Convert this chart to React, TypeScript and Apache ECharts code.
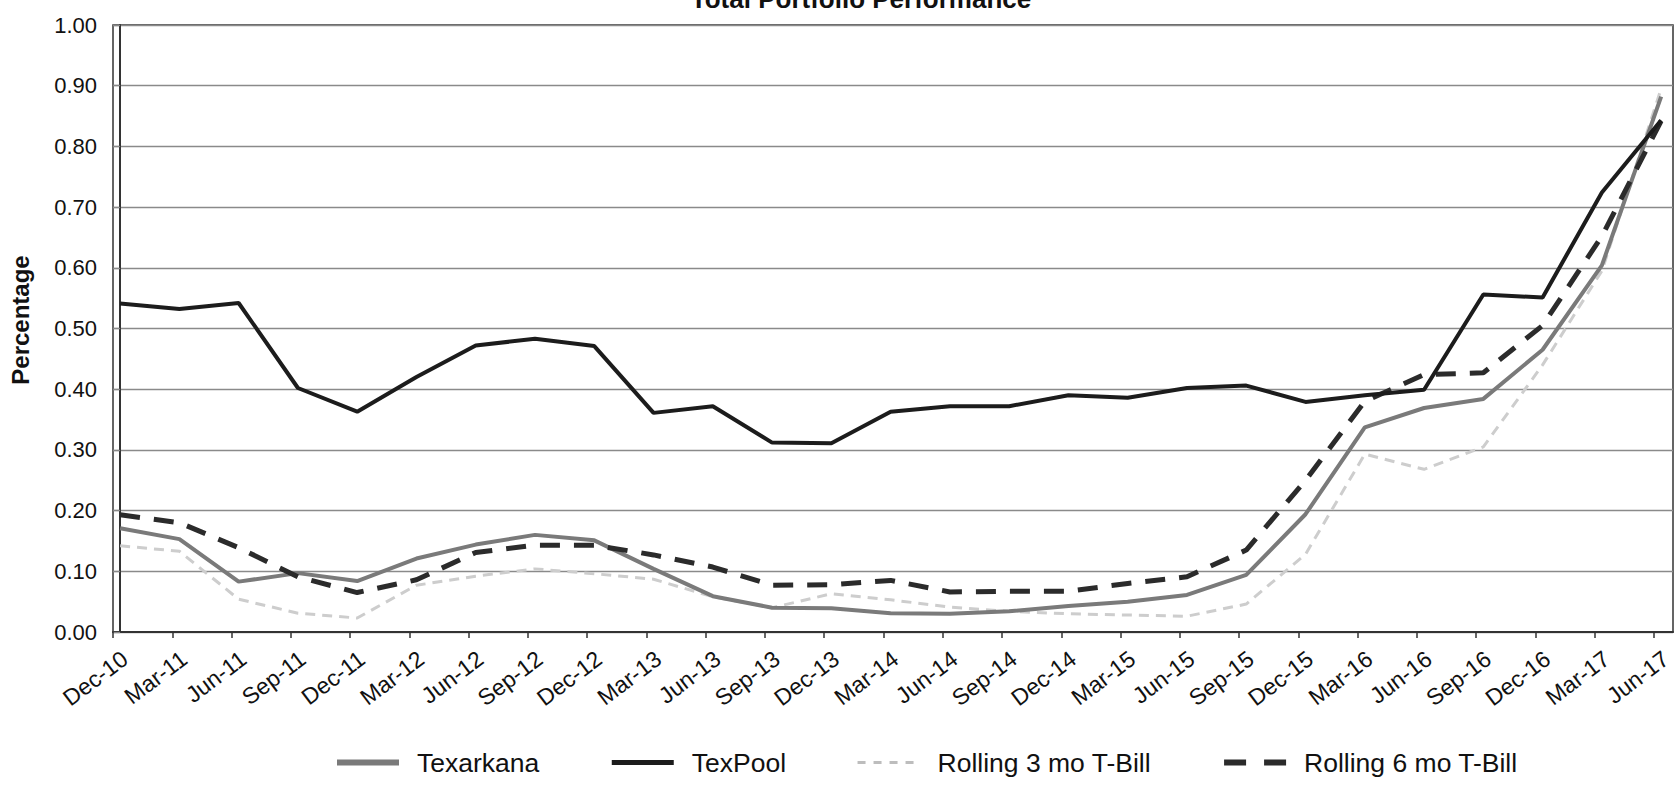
import React, { useEffect, useRef } from "react";
import * as echarts from "echarts";

const categories = [
  "Dec-10", "Mar-11", "Jun-11", "Sep-11", "Dec-11", "Mar-12", "Jun-12", "Sep-12", "Dec-12",
  "Mar-13", "Jun-13", "Sep-13", "Dec-13", "Mar-14", "Jun-14", "Sep-14", "Dec-14", "Mar-15",
  "Jun-15", "Sep-15", "Dec-15", "Mar-16", "Jun-16", "Sep-16", "Dec-16", "Mar-17", "Jun-17",
];

const texarkana = [
  0.171, 0.153, 0.083, 0.097, 0.084, 0.121, 0.144, 0.16, 0.151, 0.104, 0.059, 0.04, 0.039, 0.031,
  0.03, 0.034, 0.043, 0.05, 0.061, 0.094, 0.194, 0.337, 0.369, 0.384, 0.465, 0.604, 0.882,
];

const texPool = [
  0.541, 0.532, 0.542, 0.402, 0.363, 0.42, 0.472, 0.483, 0.471, 0.361, 0.372, 0.312, 0.311, 0.363,
  0.372, 0.372, 0.39, 0.386, 0.402, 0.406, 0.379, 0.39, 0.399, 0.556, 0.551, 0.724, 0.843,
];

const rolling3 = [
  0.142, 0.133, 0.054, 0.031, 0.023, 0.077, 0.092, 0.104, 0.096, 0.087, 0.058, 0.04, 0.063, 0.053,
  0.041, 0.034, 0.03, 0.028, 0.026, 0.046, 0.128, 0.293, 0.268, 0.305, 0.44, 0.595, 0.895,
];

const rolling6 = [
  0.193, 0.18, 0.139, 0.091, 0.065, 0.086, 0.131, 0.143, 0.143, 0.127, 0.107, 0.077, 0.078, 0.085,
  0.066, 0.067, 0.067, 0.08, 0.091, 0.135, 0.25, 0.38, 0.424, 0.427, 0.505, 0.652, 0.842,
];

const seriesNames = ["Texarkana", "TexPool", "Rolling 3 mo T-Bill", "Rolling 6 mo T-Bill"];
const chartTitle = "Total Portfolio Performance";
const yAxisTitle = "Percentage";

const TICK_SHIFT = -0.12;
const LABEL_SHIFT = 0.08;
const FONT = "'Liberation Sans', Arial, sans-serif";

const COLORS = {
  texarkana: "#7a7a7a",
  texPool: "#1c1c1c",
  rolling3: "#cdcdcd",
  rolling6: "#2b2b2b",
};

export default function App() {
  const ref = useRef<HTMLDivElement>(null);

  useEffect(() => {
    if (!ref.current) return;
    const chart = echarts.init(ref.current, undefined, { renderer: "svg" });
    const toPairs = (arr: number[]) => arr.map((v, i) => [i, v]);

    chart.setOption({
      animation: false,
      backgroundColor: "#ffffff",
      textStyle: { fontFamily: FONT },
      graphic: [
        {
          type: "text",
          x: 861,
          y: 12,
          style: {
            text: chartTitle,
            font: `bold 26px ${FONT}`,
            fill: "#111",
            textAlign: "center",
            textVerticalAlign: "bottom",
          },
        },
        {
          type: "text",
          x: 20,
          y: 320,
          rotation: Math.PI / 2,
          style: {
            text: yAxisTitle,
            font: `bold 24px ${FONT}`,
            fill: "#111",
            textAlign: "center",
            textVerticalAlign: "middle",
          },
        },
      ],
      grid: {
        left: 113,
        right: 5,
        top: 25,
        bottom: 163,
        show: true,
        borderColor: "#333",
        borderWidth: 1.5,
        backgroundColor: "transparent",
      },
      legend: {
        left: 329,
        top: 744,
        itemWidth: 62,
        itemHeight: 14,
        itemGap: 70,
        itemStyle: { opacity: 0, borderWidth: 0 },
        data: [
          { name: seriesNames[0], lineStyle: { color: COLORS.texarkana, width: 6 } },
          { name: seriesNames[1], lineStyle: { color: COLORS.texPool, width: 5 } },
          { name: seriesNames[2], lineStyle: { color: "#bdbdbd", width: 3, type: [8, 8] } },
          { name: seriesNames[3], lineStyle: { color: COLORS.rolling6, width: 6, type: [22, 18] } },
        ],
        textStyle: {
          fontSize: 26.5,
          color: "#111",
          fontFamily: FONT,
          padding: [0, 0, 0, 13],
        },
      },
      xAxis: {
        type: "value",
        min: TICK_SHIFT,
        max: 26.2,
        splitLine: { show: false },
        axisLine: { show: true, onZero: false, lineStyle: { color: "#333", width: 2 } },
        axisTick: {
          show: true,
          length: 6,
          lineStyle: { color: "#333", width: 1.5 },
          customValues: categories.map((_, i) => i + TICK_SHIFT),
        },
        axisLabel: {
          show: true,
          rotate: 37,
          margin: 24,
          fontSize: 23,
          color: "#111",
          fontFamily: FONT,
          customValues: categories.map((_, i) => i + LABEL_SHIFT),
          formatter: (v: number) => categories[Math.round(v - LABEL_SHIFT)] ?? "",
        },
      },
      yAxis: {
        type: "value",
        min: 0,
        max: 1,
        interval: 0.1,
        axisLine: { show: true, lineStyle: { color: "#333", width: 2 } },
        axisTick: { show: true, length: 7, lineStyle: { color: "#888", width: 1.3 } },
        axisLabel: {
          fontSize: 22,
          color: "#111",
          margin: 16,
          fontFamily: FONT,
          formatter: (v: number) => v.toFixed(2),
        },
        splitLine: { show: true, lineStyle: { color: "#8a8a8a", width: 1.3 } },
      },
      series: [
        {
          name: seriesNames[2],
          type: "line",
          data: toPairs(rolling3),
          symbol: "none",
          lineStyle: { color: COLORS.rolling3, width: 3, type: [10, 7] },
          itemStyle: { color: COLORS.rolling3 },
          z: 2,
        },
        {
          name: seriesNames[0],
          type: "line",
          data: toPairs(texarkana),
          symbol: "none",
          lineStyle: { color: COLORS.texarkana, width: 4 },
          itemStyle: { color: COLORS.texarkana },
          z: 3,
        },
        {
          name: seriesNames[3],
          type: "line",
          data: toPairs(rolling6),
          symbol: "none",
          lineStyle: { color: COLORS.rolling6, width: 5, type: [20, 14] },
          itemStyle: { color: COLORS.rolling6 },
          z: 4,
        },
        {
          name: seriesNames[1],
          type: "line",
          data: toPairs(texPool),
          symbol: "none",
          lineStyle: { color: COLORS.texPool, width: 4 },
          itemStyle: { color: COLORS.texPool },
          z: 5,
        },
      ],
    });

    return () => chart.dispose();
  }, []);

  return (
    <div
      ref={ref}
      style={{ position: "absolute", left: 0, top: 0, width: 1678, height: 795 }}
    />
  );
}
